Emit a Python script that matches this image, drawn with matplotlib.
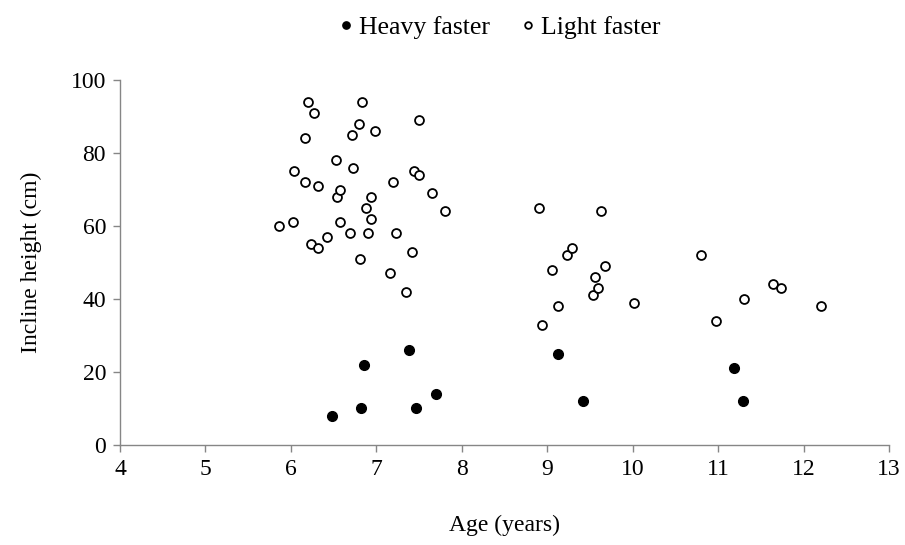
import numpy as np
import matplotlib.pyplot as plt

plt.rcParams['font.family'] = ['Liberation Serif', 'DejaVu Serif']

# Light faster (open circles)
light_age = [5.86, 6.02, 6.04, 6.17, 6.17, 6.2, 6.27, 6.24, 6.32, 6.32, 6.42,
             6.53, 6.54, 6.57, 6.58, 6.69, 6.71, 6.73, 6.8, 6.83, 6.81, 6.88,
             6.9, 6.94, 6.94, 6.99, 7.16, 7.2, 7.23, 7.35, 7.42, 7.44, 7.5,
             7.5, 7.65, 7.8,
             8.9, 8.94, 9.06, 9.13, 9.23, 9.29, 9.54, 9.56, 9.6, 9.63, 9.68,
             10.01, 10.8, 10.98, 11.3, 11.64, 11.74, 12.21]
light_height = [60, 61, 75, 72, 84, 94, 91, 55, 54, 71, 57,
                78, 68, 70, 61, 58, 85, 76, 88, 94, 51, 65,
                58, 68, 62, 86, 47, 72, 58, 42, 53, 75, 74,
                89, 69, 64,
                65, 33, 48, 38, 52, 54, 41, 46, 43, 64, 49,
                39, 52, 34, 40, 44, 43, 38]

# Heavy faster (filled circles)
heavy_age = [6.48, 6.82, 6.86, 7.38, 7.47, 7.7, 9.13, 9.42, 11.19, 11.29]
heavy_height = [8, 10, 22, 26, 10, 14, 25, 12, 21, 12]

fig = plt.figure(figsize=(9.05, 5.45), dpi=100)
ax = fig.add_axes([0.1326, 0.1835, 0.8497, 0.6697])

gray = '#868686'
ax.plot(heavy_age, heavy_height, 'o', ms=7, mfc='black', mec='black',
        label='Heavy faster', clip_on=False)
ax.plot(light_age, light_height, 'o', ms=6.4, mfc='white', mec='black',
        mew=1.3, label='Light faster', clip_on=False)

ax.set_xlim(4, 13)
ax.set_ylim(0, 100)
ax.set_xticks(np.arange(4, 14, 1))
ax.set_yticks(np.arange(0, 101, 20))
for s in ['top', 'right']:
    ax.spines[s].set_visible(False)
for s in ['left', 'bottom']:
    ax.spines[s].set_color(gray)
    ax.spines[s].set_linewidth(1.0)
ax.tick_params(axis='both', colors=gray, labelcolor='black', labelsize=17,
               length=5, width=1.0, direction='out', pad=5)

ax.set_xlabel('Age (years)', fontsize=17, labelpad=25)
ax.set_ylabel('Incline height (cm)', fontsize=17, labelpad=21)

fig.legend(loc='center', bbox_to_anchor=(0.549, 0.95), ncol=2,
           frameon=False, fontsize=18.5, markerscale=0.75, handletextpad=0.0,
           columnspacing=1.0, handlelength=1.0)

fig.savefig('out.png', dpi=100)
